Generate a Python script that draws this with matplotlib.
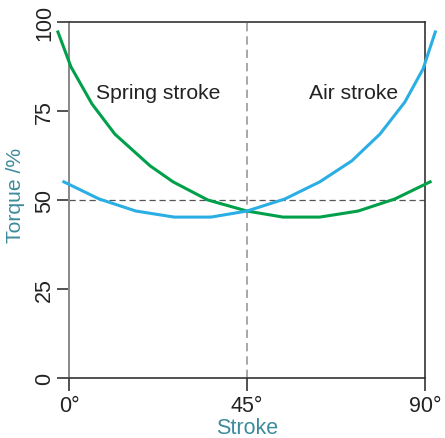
import matplotlib
matplotlib.use("Agg")
import matplotlib.pyplot as plt

plt.rcParams['font.family'] = ['Liberation Sans', 'DejaVu Sans']

# stroke angle (deg) and torque (%)
spring_x = [-2.8, 0.5, 5.8, 11.6, 20.5, 26.3, 35.1, 45.0, 54.1, 63.4, 73.1, 82.4, 91.3]
spring_y = [97.2, 87.4, 77.0, 68.5, 59.6, 55.1, 50.0, 46.9, 45.2, 45.2, 46.9, 50.3, 55.1]
air_x = [-1.3, 7.6, 16.9, 26.6, 35.9, 45.0, 54.6, 63.4, 71.5, 78.6, 84.9, 89.5, 92.6]
air_y = [55.1, 50.3, 46.9, 45.2, 45.2, 46.9, 50.3, 55.1, 61.0, 68.5, 77.5, 86.8, 97.2]

xticks = [0, 45, 90]
xticklabels = ["0°", "45°", "90°"]
yticks = [0, 25, 50, 75, 100]

green = "#00a04b"
blue = "#2aaee4"
teal = "#3d8b9c"
dark = "#222222"

fig = plt.figure(figsize=(4.45, 4.39), dpi=100)
ax = fig.add_axes([69 / 445, 1 - 379 / 439, 356 / 445, 356 / 439])

ax.axhline(50, color="#555555", lw=0.9, ls=(0, (5, 3)), zorder=1)
ax.axvline(45, color="#999999", lw=1.2, ls=(0, (5, 3)), zorder=1)

ax.plot(spring_x, spring_y, color=green, lw=2.2, clip_on=False, zorder=3)
ax.plot(air_x, air_y, color=blue, lw=2.2, clip_on=False, zorder=3)

ax.text(6.8, 80.3, "Spring stroke", fontsize=15.2, color=dark, va="center", ha="left")
ax.text(72, 80.3, "Air stroke", fontsize=15.2, color=dark, va="center", ha="center")

ax.set_xlim(0, 90)
ax.set_ylim(0, 100)
ax.set_xticks(xticks)
ax.set_xticklabels(xticklabels)
ax.set_yticks(yticks)
ax.set_yticklabels([str(v) for v in yticks], rotation=90, va="center")
ax.tick_params(axis="both", direction="out", length=9, width=1.2, colors="#333333",
               labelcolor=dark, labelsize=15.5, pad=3)
ax.tick_params(axis="y", pad=1)

ax.spines["left"].set_color("#888888")
ax.spines["left"].set_linewidth(1.4)
for s in ["top", "bottom", "right"]:
    ax.spines[s].set_color("#333333")
    ax.spines[s].set_linewidth(1.2)

ax.set_xlabel("Stroke", color=teal, fontsize=15.5, labelpad=1)
ax.set_ylabel("Torque /%", color=teal, fontsize=15.2)
ax.yaxis.set_label_coords(-0.124, 0.517)

fig.savefig("out.png", dpi=100)
